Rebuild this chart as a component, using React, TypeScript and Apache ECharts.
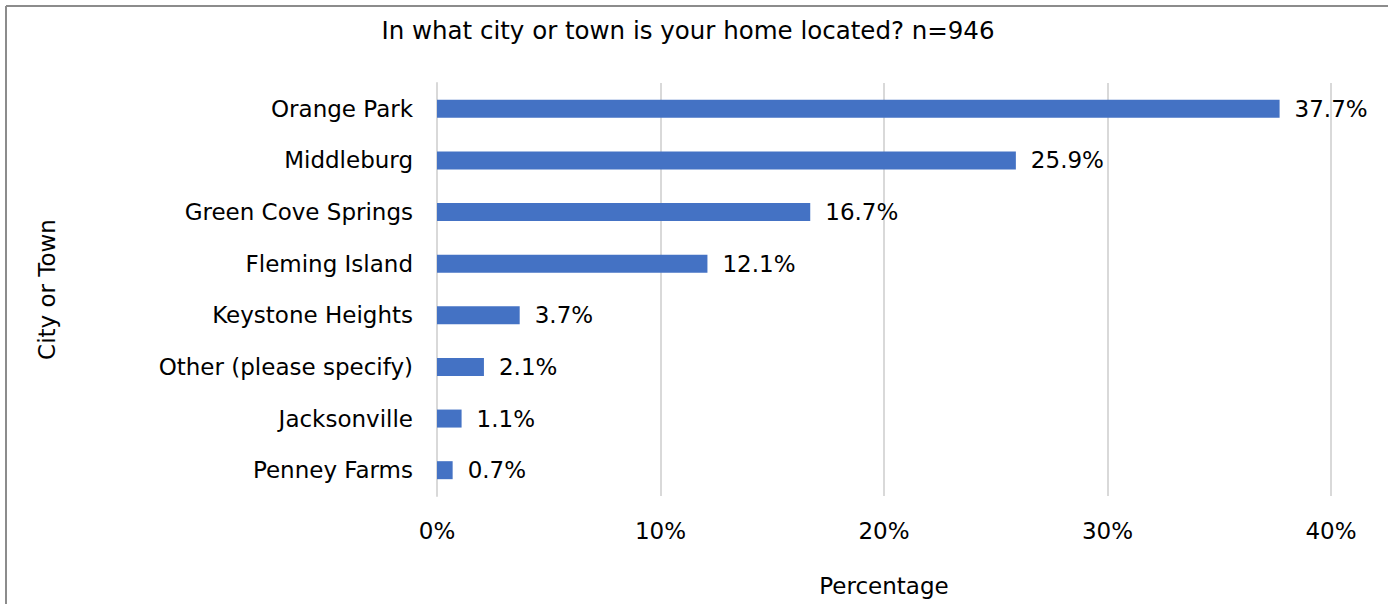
import React, { useEffect, useRef } from "react";
import * as echarts from "echarts";

const categories = [
  "Orange Park",
  "Middleburg",
  "Green Cove Springs",
  "Fleming Island",
  "Keystone Heights",
  "Other (please specify)",
  "Jacksonville",
  "Penney Farms",
];
const values = [37.7, 25.9, 16.7, 12.1, 3.7, 2.1, 1.1, 0.7];
const titleText = "In what city or town is your home located? n=946";
const xAxisName = "Percentage";
const yAxisName = "City or Town";

const FONT = "DejaVu Sans";
const FS = 23;

export default function App() {
  const ref = useRef<HTMLDivElement>(null);
  useEffect(() => {
    if (!ref.current) return;
    const chart = echarts.init(ref.current, undefined, { renderer: "svg" });
    chart.setOption({
      animation: false,
      backgroundColor: "#ffffff",
      textStyle: { fontFamily: FONT },
      title: {
        text: titleText,
        left: 683,
        top: 13,
        textAlign: "center",
        textStyle: { fontFamily: FONT, fontSize: 24.5, fontWeight: "normal", color: "#000" },
      },
      grid: { left: 437, right: 57, top: 83, bottom: 108, containLabel: false },
      xAxis: {
        type: "value",
        min: 0,
        max: 40,
        interval: 10,
        name: xAxisName,
        nameLocation: "middle",
        nameGap: 78,
        nameTextStyle: { fontFamily: FONT, fontSize: FS, color: "#000" },
        axisLabel: {
          formatter: (v: number) => v + "%",
          fontFamily: FONT,
          fontSize: FS,
          color: "#000",
          margin: 23,
        },
        axisLine: { show: false },
        axisTick: { show: false },
        splitLine: { show: true, lineStyle: { color: "#d9d9d9", width: 2 } },
      },
      yAxis: {
        type: "category",
        data: categories,
        inverse: true,
        name: yAxisName,
        nameLocation: "middle",
        nameGap: 379,
        nameRotate: 90,
        nameTextStyle: { fontFamily: FONT, fontSize: FS, color: "#000" },
        axisLabel: { fontFamily: FONT, fontSize: FS, color: "#000", margin: 24 },
        axisLine: { show: true, lineStyle: { color: "#d9d9d9", width: 2 } },
        axisTick: { show: false },
      },
      series: [
        {
          type: "bar",
          data: values,
          barWidth: 18,
          itemStyle: { color: "#4472c4" },
          label: {
            show: true,
            position: "right",
            distance: 15,
            formatter: (p: any) => p.value.toFixed(1) + "%",
            fontFamily: FONT,
            fontSize: FS,
            color: "#000",
          },
        },
      ],
      graphic: [
        {
          type: "line",
          shape: { x1: 6, y1: 6, x2: 1388, y2: 6 },
          style: { stroke: "#8c8c8c", lineWidth: 2 },
        },
        {
          type: "line",
          shape: { x1: 6, y1: 6, x2: 6, y2: 604 },
          style: { stroke: "#8c8c8c", lineWidth: 2 },
        },
      ],
    });
    return () => chart.dispose();
  }, []);
  return (
    <div
      ref={ref}
      style={{ position: "absolute", left: 0, top: 0, width: 1388, height: 604 }}
    />
  );
}
